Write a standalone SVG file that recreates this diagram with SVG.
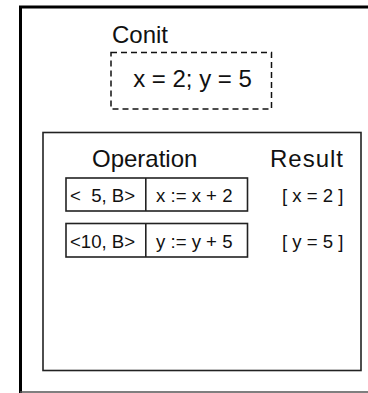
<svg xmlns="http://www.w3.org/2000/svg" width="368" height="393" viewBox="0 0 368 393">
<style>
text{font-family:"Liberation Sans",Arial,sans-serif;fill:#111}
.big{font-size:24px}
.mid{font-size:18.6px}
.box{fill:none;stroke:#222;stroke-width:1.6}
</style>
<rect width="368" height="393" fill="#fff"/>
<g id="outer">
<path d="M20.5 393 V7 H370" fill="none" stroke="#000" stroke-width="3"/>
<path d="M20 392 H370" fill="none" stroke="#555" stroke-width="1.5"/>
</g>
<g id="conit">
<text class="big" x="112" y="43" font-size="23.5">Conit</text>
<rect x="111" y="52.5" width="160.5" height="56.5" fill="none" stroke="#111" stroke-width="1.5" stroke-dasharray="6 4"/>
<text class="big" x="192.5" y="87" text-anchor="middle">x = 2; y = 5</text>
</g>
<g id="table">
<rect class="box" x="43" y="132.5" width="318" height="238"/>
<text class="big" x="92" y="167">Operation</text>
<text class="big" x="270" y="167" textLength="73">Result</text>
</g>
<g id="row1">
<rect class="box" x="66" y="178" width="181.5" height="33"/>
<line x1="145.8" y1="178" x2="145.8" y2="211" stroke="#222" stroke-width="1.6"/>
<text class="mid" x="70" y="202" xml:space="preserve">&lt;  5, B&gt;</text>
<text class="mid" x="156" y="202">x := x + 2</text>
<text class="mid" x="282" y="202">[ x = 2 ]</text>
</g>
<g id="row2">
<rect class="box" x="66" y="223.5" width="181.5" height="33.5"/>
<line x1="145.8" y1="223.5" x2="145.8" y2="257" stroke="#222" stroke-width="1.6"/>
<text class="mid" x="70" y="248">&lt;10, B&gt;</text>
<text class="mid" x="156" y="248">y := y + 5</text>
<text class="mid" x="282" y="248">[ y = 5 ]</text>
</g>
<g id="connectors"></g>
</svg>
